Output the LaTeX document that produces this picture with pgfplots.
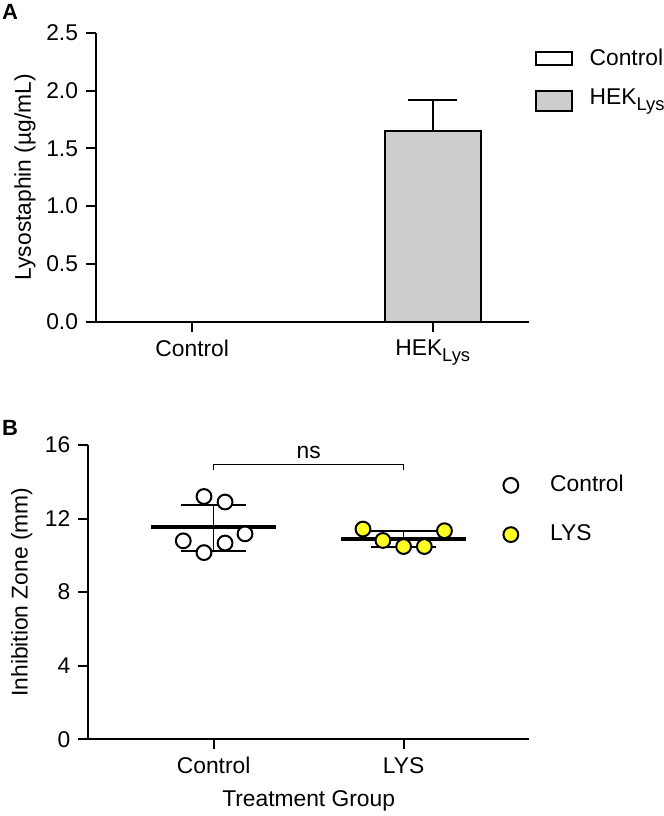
\documentclass[border=0pt]{standalone}
\usepackage{pgfplots}
\pgfplotsset{compat=1.18}
\usepackage{fontspec}
\setmainfont{Liberation Sans}
\definecolor{barg}{HTML}{CCCCCC}
\definecolor{lysy}{HTML}{FFFF22}
\newcommand{\lys}{HEK\raisebox{-3pt}{\fontsize{9.2}{9}\selectfont Lys}}
\newcommand{\fs}{\fontsize{11.4}{13}\selectfont}
\begin{document}
\fs
\begin{tikzpicture}
\useasboundingbox (0,0) rectangle (332pt,408pt);
\pgfplotsset{
  common/.style={
    scale only axis,
    axis x line*=bottom, axis y line*=left,
    axis line style={-, line width=1pt, black},
    every tick/.style={black, line width=1pt},
    tick align=outside,
    major tick length=5pt,
    minor tick num=0,
    /pgf/number format/assume math mode=true,
    tick label style={font=\fs, black},
    label style={font=\fs, black},
    legend style={draw=none, fill=none, inner sep=0pt, outer sep=0pt,
      font=\fs, legend cell align=left},
  }
}
\node[font=\bfseries\fontsize{11}{13}\selectfont] at (5pt,402pt) {A};
\node[font=\bfseries\fontsize{11}{13}\selectfont] at (5pt,194pt) {B};

% Panel A
\begin{axis}[common,
  at={(48pt,247.15pt)}, anchor=south west,
  width=216.5pt, height=144.5pt,
  xmin=-0.4, xmax=1.4, ymin=0, ymax=2.5,
  ytick={0,0.5,1,1.5,2,2.5},
  yticklabel style={/pgf/number format/.cd, fixed, fixed zerofill, precision=1},
  xtick={0,1}, xticklabels={Control, \lys},
  ylabel={Lysostaphin (µg/mL)},
  ylabel style={at={(axis description cs:-0.164,0.5)}, anchor=center},
  legend style={at={(axis description cs:1.014,1)}, anchor=north west, yshift=-6pt,
    /tikz/every odd column/.append style={column sep=6.3pt}, row sep=6pt},
]
\addplot[ybar, bar width=0.4, bar shift=0pt, fill=white, draw=black, line width=1pt,
  legend image code/.code={\draw[fill=white, draw=black, line width=1pt] (0pt,-3.25pt) rectangle (18pt,3.25pt);}]
  coordinates {(0,0)};
\addlegendentry{Control}
\addplot[ybar, bar width=0.4, bar shift=0pt, fill=barg, draw=black, line width=1pt,
  legend image code/.code={\draw[fill=barg, draw=black, line width=1pt] (0pt,-6.5pt) rectangle (18pt,3.5pt);},
  error bars/.cd, y dir=plus, y explicit,
  error bar style={line width=1pt, black},
  error mark options={rotate=90, mark size=12.25pt, line width=1pt, black},
  ]
  coordinates {(1,1.652) +- (0,0.268)};
\addlegendentry{\lys}
\end{axis}

% Panel B
\begin{axis}[common,
  at={(44.15pt,38.35pt)}, anchor=south west,
  width=220.35pt, height=147.15pt,
  xmin=-0.66, xmax=1.66, ymin=0, ymax=16,
  ytick={0,4,8,12,16},
  xtick={0,1}, xticklabels={Control, LYS},
  ylabel={Inhibition Zone (mm)},
  ylabel style={at={(axis description cs:-0.151,0.5)}, anchor=center},
  xlabel={Treatment Group},
  xlabel style={at={(axis description cs:0.5,-0.211)}, anchor=center},
  clip=false,
  legend style={at={(axis description cs:0.942,1)}, anchor=north west, yshift=-13.2pt,
    /tikz/every odd column/.append style={column sep=14pt}, row sep=10.8pt},
]
\addplot[only marks, mark=*, mark size=3.7pt, mark options={fill=white, draw=black, line width=1pt}]
  coordinates {(-0.051,13.2) (0.06,12.9) (-0.16,10.79) (-0.051,10.15) (0.06,10.67) (0.165,11.17)};
\addlegendentry{Control}
\addplot[only marks, mark=*, mark size=3.7pt, mark options={fill=lysy, draw=black, line width=1pt}]
  coordinates {(0.786,11.43) (0.891,10.81) (1.0,10.48) (1.109,10.48) (1.215,11.34)};
\addlegendentry{LYS}
% means
\addplot[black, line width=2pt, forget plot] coordinates {(-0.33,11.52) (0.33,11.52)};
\addplot[black, line width=2pt, forget plot] coordinates {(0.67,10.9) (1.33,10.9)};
% SD Control
\addplot[black, line width=0.8pt, forget plot] coordinates {(0,10.25) (0,12.75)};
\addplot[black, line width=0.8pt, forget plot] coordinates {(-0.17,12.75) (0.17,12.75)};
\addplot[black, line width=0.8pt, forget plot] coordinates {(-0.17,10.25) (0.17,10.25)};
% SD LYS
\addplot[black, line width=0.8pt, forget plot] coordinates {(1,10.47) (1,11.34)};
\addplot[black, line width=0.8pt, forget plot] coordinates {(0.82,11.34) (1.18,11.34)};
\addplot[black, line width=0.8pt, forget plot] coordinates {(0.83,10.47) (1.17,10.47)};
% ns bracket
\addplot[black, line width=0.8pt, forget plot] coordinates {(0,14.65) (0,14.93) (1,14.93) (1,14.65)};
\node[font=\fs] at (axis cs:0.5,15.6) {ns};
\end{axis}
\end{tikzpicture}
\end{document}
